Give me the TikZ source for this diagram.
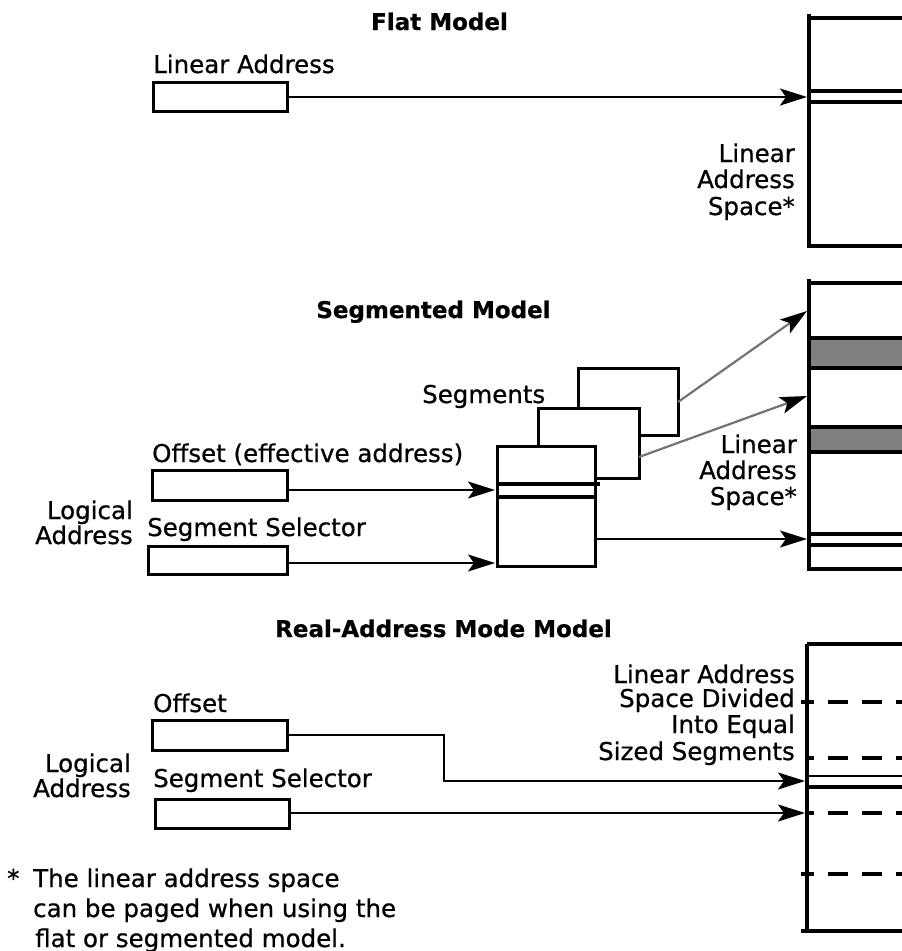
\documentclass[tikz,border=0pt]{standalone}
\usepackage{fontspec}
\setmainfont{DejaVu Sans}[RawFeature={embolden=0.7}]
\usetikzlibrary{arrows.meta}
\begin{document}
\begin{tikzpicture}[x=1pt,y=-1pt,
  box/.style={draw, line width=3pt, fill=white, inner sep=0pt, outer sep=0pt},
  arr/.style={line width=2.5pt, -{Stealth[length=27pt,width=17pt,inset=6pt]}},
  garr/.style={line width=2.2pt, draw=black!55, -{Stealth[length=27pt,width=17pt,inset=6pt,color=black,fill=black]}},
  wall/.style={line width=3.2pt},
  thinwall/.style={line width=2pt},
  dashwall/.style={line width=3.2pt, dash pattern=on 20pt off 14pt},
  lbl/.style={inner sep=0pt, font=\fontsize{24.5}{26}\selectfont},
  lw/.style={lbl, anchor=base west},
  le/.style={lbl, anchor=base east},
  ttl/.style={inner sep=0pt, anchor=base, font=\bfseries\fontsize{23}{26}\selectfont}]
\useasboundingbox (0,0) rectangle (902,951);

% ---------------- Flat Model ----------------
\node[ttl] (t1) at (439.5,30) {Flat Model};
\node[lw] (f1l) at (153,73) {Linear Address};
\node[box, minimum width=134pt, minimum height=29pt] (f1box) at (220,96.5) {};
\draw[wall] (809,14) -- (809,246) -- (910,246);
\draw[wall] (809,18) -- (910,18);
\draw[wall] (809,91) -- (910,91);
\draw[wall] (809,102) -- (910,102);
\coordinate (f1t) at (807,97);
\draw[arr] (f1box.east |- f1t) -- (f1t);
\node[le] (f1s1) at (795,162) {Linear};
\node[le] (f1s2) at (795,188) {Address};
\node[le] (f1s3) at (795,215) {Space*};

% ---------------- Segmented Model ----------------
\node[ttl] (t2) at (433.5,318) {Segmented Model};
\draw[wall] (809,279) -- (809,569) -- (910,569);
\draw[wall] (809,283) -- (910,283);
\draw[wall, fill=black!50] (809,338) rectangle (910,368);
\draw[wall, fill=black!50] (809,427) rectangle (910,452);
\draw[wall] (809,534) -- (910,534);
\draw[wall] (809,545) -- (910,545);
\node[le] (s2s1) at (797,453) {Linear};
\node[le] (s2s2) at (797,479) {Address};
\node[le] (s2s3) at (797,505) {Space*};

\node[lw] (s2seg) at (422,403) {Segments};
\node[box, minimum width=100pt, minimum height=67pt] (segback) at (628,401.5) {};
\node[box, minimum width=101pt, minimum height=70pt] (segmid) at (588.5,443) {};
\node[box, minimum width=98pt, minimum height=120pt] (segfront) at (546,506) {};
\draw[wall] (segfront.west |- 0,484) -- (600,484);
\draw[wall] (segfront.west |- 0,497) -- (595,497);

\coordinate (s2a) at (807,311);
\coordinate (s2b) at (807,396);
\draw[garr] (segback.east |- 0,402) -- (s2a);
\draw[garr] (segmid.east |- 0,457) -- (s2b);
\coordinate (s2c) at (807,539);
\draw[arr] (segfront.east |- s2c) -- (s2c);

\node[lw] (s2off) at (152,462) {Offset (effective address)};
\node[box, minimum width=135pt, minimum height=30pt] (s2offbox) at (219.5,485) {};
\node[lw] (s2sel) at (147,536) {Segment Selector};
\node[box, minimum width=139pt, minimum height=28pt] (s2selbox) at (217.5,560) {};
\node[le] (s2lg1) at (133,519) {Logical};
\node[le] (s2lg2) at (133,544) {Address};
\coordinate (s2d) at (495,490);
\coordinate (s2e) at (495,563);
\draw[arr] (s2offbox.east |- s2d) -- (s2d);
\draw[arr] (s2selbox.east |- s2e) -- (s2e);

% ---------------- Real-Address Mode Model ----------------
\node[ttl] (t3) at (443.5,637) {Real-Address Mode Model};
\draw[wall] (807,644) -- (807,931);
\draw[wall] (801,931) -- (910,931);
\draw[wall] (807,644) -- (910,644);
\draw[dashwall, dash phase=7pt] (801,702) -- (910,702);
\draw[dashwall, dash phase=13pt] (807,758) -- (910,758);
\draw[thinwall] (807,776) -- (910,776);
\draw[wall] (807,787) -- (910,787);
\draw[dashwall, dash phase=13pt] (807,813) -- (910,813);
\draw[dashwall, dash phase=7pt] (801,874) -- (910,874);
\node[le] (r3t1) at (795,683) {Linear Address};
\node[le] (r3t2) at (795,707) {Space Divided};
\node[le] (r3t3) at (795,733) {Into Equal};
\node[le] (r3t4) at (795,760) {Sized Segments};

\node[lw] (r3off) at (153,712) {Offset};
\node[box, minimum width=135pt, minimum height=30pt] (r3offbox) at (219.5,735) {};
\node[lw] (r3sel) at (153,787) {Segment Selector};
\node[box, minimum width=134pt, minimum height=29pt] (r3selbox) at (222,813.5) {};
\node[le] (r3lg1) at (131,772) {Logical};
\node[le] (r3lg2) at (131,797) {Address};
\coordinate (r3a) at (805,781);
\coordinate (r3b) at (805,813);
\draw[arr] (r3offbox.east) -- (444,735) -- (444,781) -- (r3a);
\draw[arr] (r3selbox.east |- r3b) -- (r3b);

% ---------------- Footnote ----------------
\node[lw] (fnst) at (7,887) {*};
\node[lw] (fn1) at (33,887) {The linear address space};
\node[lw] (fn2) at (33,917) {can be paged when using the};
\node[lw] (fn3) at (35,947) {flat or segmented model.};
\end{tikzpicture}
\end{document}
